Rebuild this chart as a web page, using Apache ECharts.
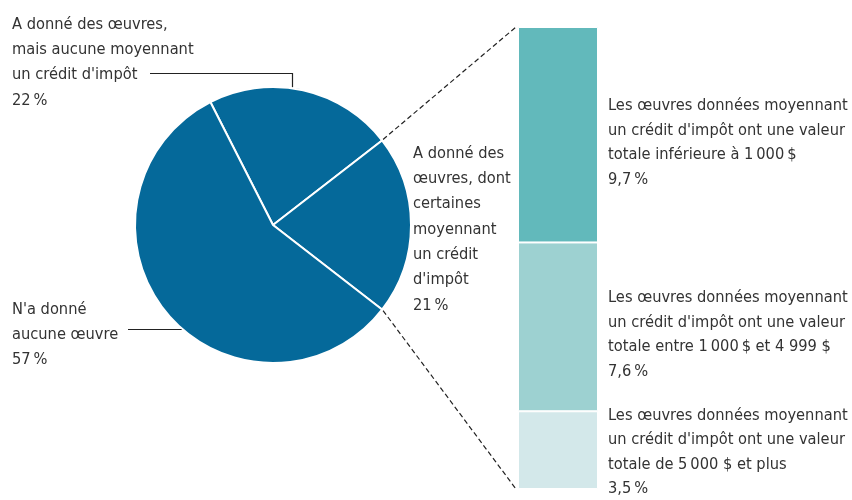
<!DOCTYPE html>
<html>
<head>
<meta charset="utf-8">
<script src="https://cdn.jsdelivr.net/npm/echarts@6/dist/echarts.min.js"></script>
<style>
    html, body { margin: 0; padding: 0; background: #fff; }
    #chart_pie { width: 852px; height: 500px; }
</style>
</head>
<body>
<div id="chart_pie"></div>
<script>
// données du graphique circulaire (ordre horaire à partir du haut gauche)
var pieNames = [
    "A donné des œuvres,\nmais aucune moyennant\nun crédit d'impôt",
    "A donné des\nœuvres, dont\ncertaines\nmoyennant\nun crédit\nd'impôt",
    "N'a donné\naucune œuvre"
];
var pieValues = [22, 21, 57];

// barre de détail, du haut vers le bas
var barNames = [
    "Les œuvres données moyennant\nun crédit d'impôt ont une valeur\ntotale inférieure à 1\u2009000\u2009$",
    "Les œuvres données moyennant\nun crédit d'impôt ont une valeur\ntotale entre 1\u2009000\u2009$ et 4 999 $",
    "Les œuvres données moyennant\nun crédit d'impôt ont une valeur\ntotale de 5\u2009000 $ et plus"
];
var barValues = [9.7, 7.6, 3.5];

var font = "'DejaVu Sans Condensed', sans-serif";
var fontSize = 16.3;
var textColor = '#333';
var pieColor = '#05699a';
var barColors = ['#62b9bb', '#9dd1d1', '#d3e8ea'];
var barOffsets = [[0, 8], [0, 8], [0, 2]];
var pieLabelPos = [[12, 12], [413, 141], [12, 297]];

var cx = 273, cy = 225, r = 138, startAngle = 117;

function pct(v) {
    return String(v).replace('.', ',') + '\u2009%';
}

var myChart = echarts.init(document.getElementById('chart_pie'));

var total = 0;
barValues.forEach(function (v) { total += v; });

// séries empilées : le bas en premier
var barSeries = [];
for (var i = barValues.length - 1; i >= 0; i--) {
    barSeries.push({
        type: 'bar',
        stack: 'detail',
        name: barNames[i],
        data: [barValues[i]],
        barWidth: '100%',
        silent: true,
        itemStyle: { color: barColors[i], borderColor: '#fff', borderWidth: 1 },
        label: {
            show: true,
            position: 'right',
            distance: 10,
            offset: barOffsets[i],
            align: 'left',
            color: textColor,
            fontFamily: font,
            fontSize: fontSize,
            lineHeight: 24.5,
            formatter: (function (n, v) {
                return function () { return n + '\n' + pct(v); };
            })(barNames[i], barValues[i])
        }
    });
}

var option = {
    animation: false,
    grid: { left: 518, width: 80, top: 27, bottom: 11 },
    xAxis: { type: 'category', data: ['détail'], show: false },
    yAxis: { type: 'value', min: 0, max: total, show: false },
    series: [{
        type: 'pie',
        center: [cx, cy],
        radius: r,
        startAngle: startAngle,
        clockwise: true,
        silent: true,
        itemStyle: { color: pieColor, borderColor: '#fff', borderWidth: 2 },
        label: {
            show: true,
            color: textColor,
            fontFamily: font,
            fontSize: fontSize,
            lineHeight: 25.3,
            overflow: 'none',
            formatter: function (p) { return p.name + '\n' + pct(p.value); }
        },
        labelLine: { show: false },
        labelLayout: function (p) {
            var pos = pieLabelPos[p.dataIndex];
            return { x: pos[0], y: pos[1], align: 'left', verticalAlign: 'top' };
        },
        data: pieNames.map(function (n, i) { return { name: n, value: pieValues[i] }; })
    }].concat(barSeries)
};
myChart.setOption(option);

// lignes pointillées entre la part "21 %" et la barre
var sum = 0;
pieValues.forEach(function (v) { sum += v; });
var a1 = startAngle - pieValues[0] / sum * 360;
var a2 = a1 - pieValues[1] / sum * 360;
function edge(a) {
    var rad = a * Math.PI / 180;
    return [cx + r * Math.cos(rad), cy - r * Math.sin(rad)];
}
var barTop = myChart.convertToPixel({ yAxisIndex: 0 }, total);
var barBottom = myChart.convertToPixel({ yAxisIndex: 0 }, 0);
var barLeft = 516;
var p1 = edge(a1), p2 = edge(a2);

// traits de rappel des étiquettes
var lead0 = edge(startAngle - pieValues[0] / sum * 360 * 0.44);
var lead2 = edge(a2 - pieValues[2] / sum * 360 * 0.454);

var dash = { stroke: '#222', lineWidth: 1.2, lineDash: [5, 3] };

myChart.setOption({
    graphic: [
        { type: 'line', silent: true, shape: { x1: p1[0] + 1, y1: p1[1] - 1, x2: barLeft, y2: barTop }, style: dash },
        { type: 'line', silent: true, shape: { x1: p2[0] + 1, y1: p2[1] + 1, x2: barLeft, y2: barBottom }, style: dash },
        { type: 'polyline', silent: true,
          shape: { points: [[150, 73.5], [Math.round(lead0[0]) + 0.5, 73.5], [Math.round(lead0[0]) + 0.5, lead0[1] - 1]] },
          style: { stroke: '#222', lineWidth: 1.2, fill: null } },
        { type: 'line', silent: true,
          shape: { x1: 128, y1: Math.round(lead2[1]) + 0.5, x2: lead2[0], y2: Math.round(lead2[1]) + 0.5 },
          style: { stroke: '#222', lineWidth: 1.2 } }
    ]
});
</script>
</body>
</html>
